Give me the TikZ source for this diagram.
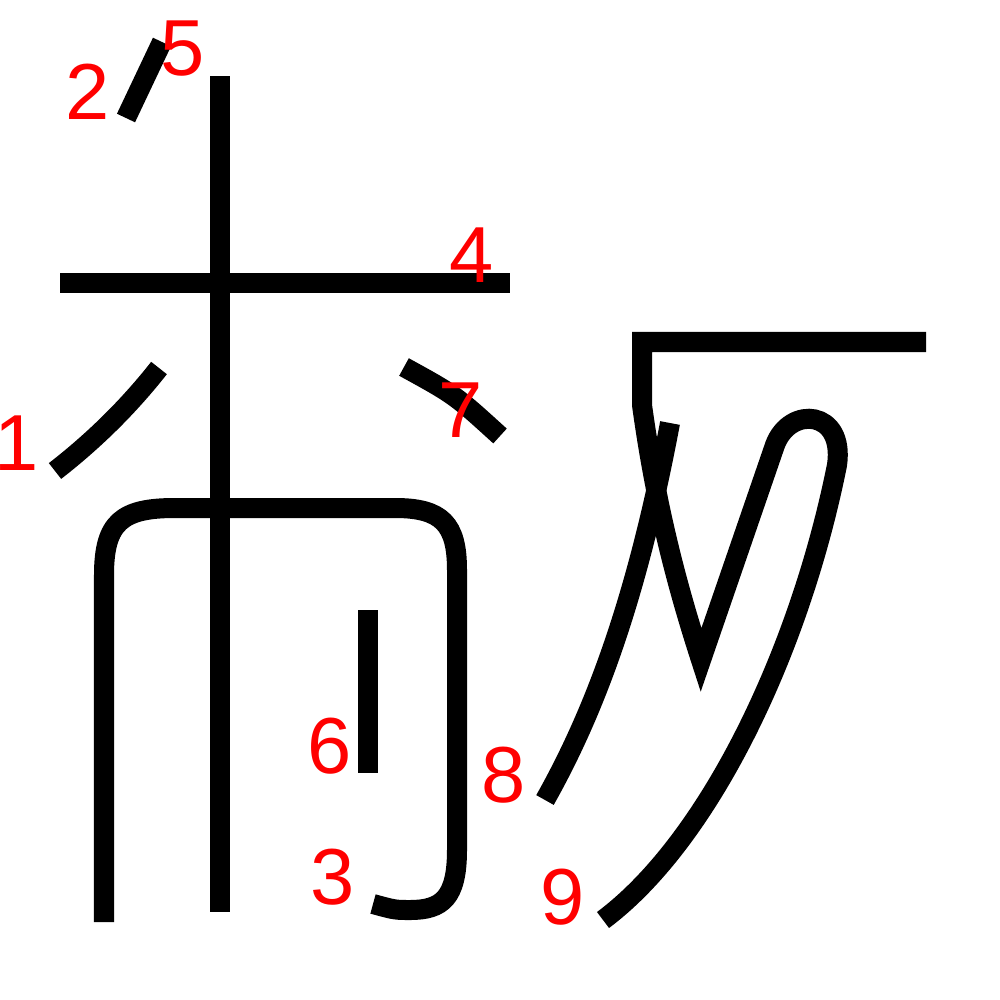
\documentclass[tikz,border=0pt]{standalone}
\usepackage{fontspec}
\setmainfont{Liberation Sans}
\begin{document}
\begin{tikzpicture}[x=0.01cm,y=-0.01cm,
  stroke/.style={draw=black,line width=0.2cm,line cap=butt,line join=miter},
  num/.style={text=red,inner sep=0pt,anchor=center,font=\fontsize{22.6}{24}\selectfont}]
\useasboundingbox (0,0) rectangle (1000,1000);
% stroke 1
\draw[stroke] (159,368) .. controls (130,405) and (95,440) .. (55,471);
% stroke 2
\draw[stroke] (162,42) -- (126,118);
% stroke 3
\draw[stroke] (104,922) -- (104,575) .. controls (104,522) and (122,508) .. (175,508)
  -- (395,508) .. controls (442,508) and (457,524) .. (457,570)
  -- (457,850) .. controls (457,898) and (442,910) .. (410,910) .. controls (395,910) .. (373,904);
% stroke 4
\draw[stroke] (60,283) -- (510,283);
% stroke 5
\draw[stroke] (220,76) -- (220,912);
% stroke 6
\draw[stroke] (368,610) -- (368,773);
% stroke 7
\draw[stroke] (404,367) .. controls (455,395) .. (500,436);
% stroke 8
\draw[stroke] (670,423) .. controls (635,610) and (590,720) .. (545,800);
% stroke 9
\draw[stroke] (926,342) -- (642,342) -- (642,405)
  .. controls (655,500) and (675,580) .. (701,660)
  -- (775,445) .. controls (790,405) and (845,410) .. (837,465)
  .. controls (800,650) and (710,840) .. (603,920);
% labels
\node[num] (n1) at (17,443) {1};
\node[num] (n2) at (88,92) {2};
\node[num] (n3) at (333,877) {3};
\node[num] (n4) at (472,255) {4};
\node[num] (n5) at (183,49) {5};
\node[num] (n6) at (330,746) {6};
\node[num] (n7) at (461,410) {7};
\node[num] (n8) at (504,775) {8};
\node[num] (n9) at (563,897) {9};
\end{tikzpicture}
\end{document}
